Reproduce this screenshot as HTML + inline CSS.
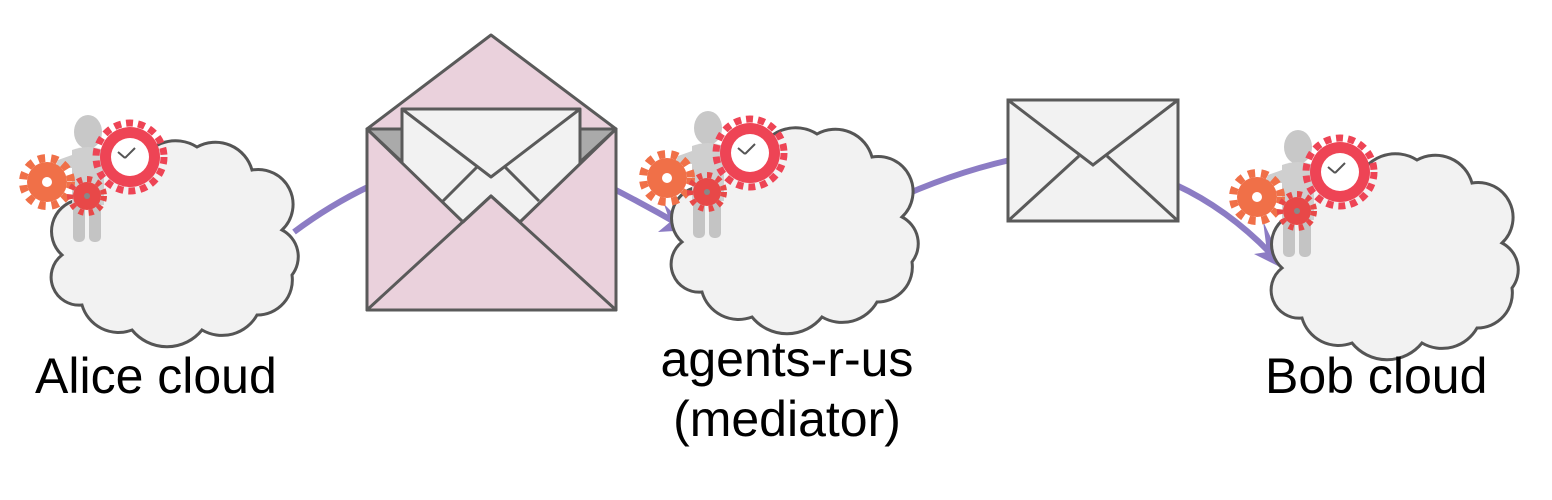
<!DOCTYPE html>
<html><head><meta charset="utf-8"><style>
html,body{margin:0;padding:0;background:#fff;}
svg{display:block}
text{font-family:"Liberation Sans",sans-serif;font-size:50px;fill:#000}
</style></head><body>
<svg width="1552" height="500" viewBox="0 0 1552 500" xmlns="http://www.w3.org/2000/svg">
<defs>
<path id="cloud" d="M20,120 A32,32 0 0 1 35,65 A38,38 0 0 1 95,35 A40,40 0 0 1 155,12 A38,38 0 0 1 210,35 A35,35 0 0 1 240,95 A30,30 0 0 1 250,140 A35,35 0 0 1 215,180 A40,40 0 0 1 160,195 A45,45 0 0 1 90,195 A38,38 0 0 1 40,170 A28,28 0 0 1 20,120 Z" fill="#f2f2f2" stroke="#555" stroke-width="3"/>
<g id="fig">
  <ellipse cx="88" cy="132" rx="14" ry="17" fill="#c8c8c8"/>
  <path d="M72,150 Q88,144 104,150 L104,205 L72,205 Z" fill="#cfcfcf"/>
  <path d="M72,155 L58,160 L55,168 L75,168 Z" fill="#cfcfcf"/>
  <rect x="73" y="200" width="12" height="42" rx="5" fill="#c4c4c4"/>
  <rect x="89" y="200" width="12" height="42" rx="5" fill="#c4c4c4"/>
  <circle cx="130" cy="157" r="30" fill="#ee4455"/>
  <circle cx="130" cy="157" r="34" fill="none" stroke="#ee4455" stroke-width="7" stroke-dasharray="7 5"/>
  <circle cx="130" cy="157" r="19" fill="#fff"/>
  <path d="M125,158 L135,148 M125,158 L118,152" stroke="#555" stroke-width="2" fill="none"/>
  <circle cx="47" cy="182" r="20" fill="#f07048"/>
  <circle cx="47" cy="182" r="24" fill="none" stroke="#f07048" stroke-width="8" stroke-dasharray="7 6"/>
  <circle cx="47" cy="182" r="5" fill="#fff"/>
  <circle cx="87" cy="196" r="14" fill="#e84848"/>
  <circle cx="87" cy="196" r="17" fill="none" stroke="#e84848" stroke-width="6" stroke-dasharray="5 5"/>
  <circle cx="87" cy="196" r="3" fill="#888"/>
</g>
</defs>

<path d="M294,232 Q330,205 370,186" fill="none" stroke="#8c7cc4" stroke-width="6"/>
<path d="M612,188 Q645,205 680,225" fill="none" stroke="#8c7cc4" stroke-width="6"/>
<polygon points="690,230 658,232 670,222 664,204" fill="#8c7cc4"/>
<path d="M883,205 Q945,175 1010,160" fill="none" stroke="#8c7cc4" stroke-width="6"/>
<path d="M1176,185 Q1230,210 1275,258" fill="none" stroke="#8c7cc4" stroke-width="6"/>
<polygon points="1286,270 1254,254 1267,252 1263,221" fill="#8c7cc4"/>

<use href="#cloud" transform="translate(42,135)"/>
<use href="#cloud" transform="translate(662,122)"/>
<use href="#cloud" transform="translate(1262,148)"/>

<use href="#fig"/>
<use href="#fig" transform="translate(620,-4)"/>
<use href="#fig" transform="translate(1210,15)"/>

<g stroke="#5a5a5a" stroke-width="3" stroke-linejoin="round">
  <polygon points="367,129 491,35 616,129" fill="#ead1dc"/>
  <polygon points="367,129 616,129 616,310 367,310" fill="#ead1dc"/>
  <polygon points="367,129 402,129 402,162" fill="#aaa"/>
  <polygon points="616,129 580,129 580,162" fill="#aaa"/>
  <polygon points="402,109 580,109 580,170 520,222 463,222 402,170" fill="#f2f2f2"/>
  <polyline points="402,109 491,177 580,109" fill="none"/>
  <line x1="443" y1="201" x2="477" y2="167"/>
  <line x1="539" y1="201" x2="505" y2="167"/>
  <polygon points="367,129 463,222 491,196 520,222 616,129 616,310 367,310" fill="#ead1dc"/>
  <polyline points="367,310 491,196 616,310" fill="none"/>
</g>

<g stroke="#5a5a5a" stroke-width="3" fill="none">
  <rect x="1008" y="100" width="170" height="121" fill="#f2f2f2"/>
  <polyline points="1008,100 1093,165 1178,100"/>
  <line x1="1008" y1="221" x2="1079" y2="156"/>
  <line x1="1178" y1="221" x2="1107" y2="156"/>
</g>

<text x="35" y="393">Alice cloud</text>
<text x="787" y="376" text-anchor="middle">agents-r-us</text>
<text x="787" y="436" text-anchor="middle">(mediator)</text>
<text x="1265" y="393">Bob cloud</text>
</svg>
</body></html>
